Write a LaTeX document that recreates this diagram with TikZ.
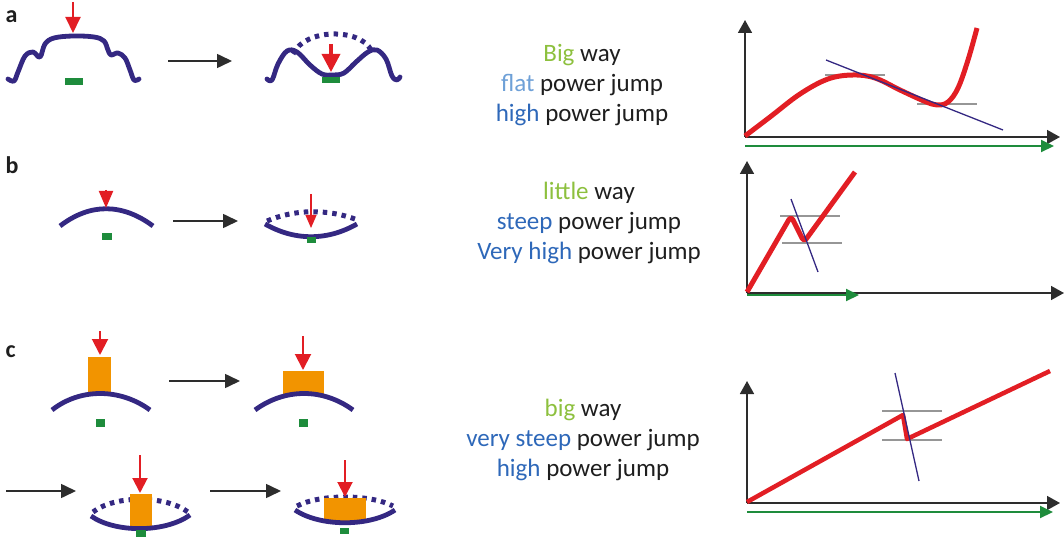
\documentclass[tikz,border=0pt]{standalone}
\usepackage{fontspec}
\setmainfont{Carlito}
\usetikzlibrary{arrows.meta}

\definecolor{prof}{RGB}{52,40,130}
\definecolor{pred}{RGB}{226,30,36}
\definecolor{porange}{RGB}{242,148,0}
\definecolor{pgreen}{RGB}{30,140,60}
\definecolor{lgreen}{RGB}{141,192,62}
\definecolor{lblue}{RGB}{110,160,215}
\definecolor{mblue}{RGB}{46,104,185}
\definecolor{txt}{RGB}{30,30,30}
\definecolor{axisgray}{RGB}{45,45,45}
\definecolor{levelgray}{RGB}{150,150,150}

\tikzset{
  profile/.style={draw=prof, line width=4.8pt, line cap=round, line join=round},
  dotarc/.style={draw=prof, line width=5pt, dash pattern=on 4.5pt off 5pt},
  load/.style={draw=pred, line width=2pt, -{Triangle[length=16pt,width=15pt]}},
  stepar/.style={draw=axisgray, line width=1.6pt, -{Triangle[length=15pt,width=14pt]}},
  sensor/.style={fill=pgreen},
  block/.style={fill=porange},
  axis/.style={draw=axisgray, line width=1.6pt, -{Triangle[length=13pt,width=14pt]}},
  travel/.style={draw=pgreen, line width=2pt, -{Triangle[length=13pt,width=12pt]}},
  curve/.style={draw=pred, line width=5pt, line join=round},
  level/.style={draw=levelgray, line width=1.5pt},
  tang/.style={draw=prof, line width=1.3pt},
  captext/.style={font=\fontsize{25}{30}\selectfont, align=center, text=txt},
  tag/.style={font=\fontsize{24}{26}\selectfont\bfseries, text=txt, anchor=west}
}

\begin{document}
\begin{tikzpicture}[x=1pt, y=-1pt]
\useasboundingbox (0,0) rectangle (1064,537);

% panel tags
\node[tag] (tA) at (2,17) {a};
\node[tag] (tB) at (2,165) {b};
\node[tag] (tC) at (2,352) {c};

% ---------- a: profiled sheet ----------
\draw[profile] plot[smooth, tension=0.6] coordinates {
  (8,79) (14,81) (18,72) (25,56) (33,52) (40,57) (45,44) (54,38) (73,36)
  (94,37) (104,41) (108,50) (111,55) (118,53) (125,58) (130,70) (134,80) (139,79)};
\fill[sensor] (65,78) rectangle (83,85);
\coordinate (aL0) at (73,2);
\coordinate (aL1) at (73,33);
\draw[load] (aL0) -- (aL1);

\coordinate (aS0) at (168,61);
\coordinate (aS1) at (232,61);
\draw[stepar] (aS0) -- (aS1);

\draw[dotarc] (293,54) .. controls (305,28) and (360,28) .. (371,50);
\draw[profile] plot[smooth, tension=0.6] coordinates {
  (267,79) (272,80) (278,64) (287,51) (297,52) (310,65) (322,74) (333,75)
  (344,73) (356,62) (368,52) (377,50) (386,59) (392,76) (397,80) (400,77)};
\fill[sensor] (322,77) rectangle (340,83);
\coordinate (aR0) at (331,44);
\coordinate (aR1) at (331,72);
\draw[load, line width=3.5pt, -{Triangle[length=18pt,width=18pt]}] (aR0) -- (aR1);

% ---------- b: arched sheet ----------
\draw[profile, line cap=butt] (60,226) .. controls (90,203) and (122,203) .. (153,226);
\fill[sensor] (102,233) rectangle (112,240);
\coordinate (bL0) at (106,190);
\coordinate (bL1) at (106,208);
\draw[load, -{Triangle[length=17pt,width=14pt]}] (bL0) -- (bL1);

\coordinate (bS0) at (173,221);
\coordinate (bS1) at (238,221);
\draw[stepar] (bS0) -- (bS1);

\draw[dotarc] (267,221) .. controls (295,209) and (327,209) .. (355,219);
\draw[profile, line cap=butt] (265,224) .. controls (295,241) and (327,241) .. (357,224);
\fill[sensor] (307,237) rectangle (316,243);
\coordinate (bR0) at (311,194);
\coordinate (bR1) at (311,228);
\draw[load, line width=1.3pt, -{Triangle[length=13pt,width=11pt]}] (bR0) -- (bR1);

% ---------- c: arched sheet with stamp ----------
\fill[block] (88,357) rectangle (111,394);
\draw[profile, line cap=butt] (52,410) .. controls (80,388) and (120,388) .. (150,410);
\fill[sensor] (96,419) rectangle (105,427);
\coordinate (cA0) at (100,331);
\coordinate (cA1) at (100,355);
\draw[load, -{Triangle[length=16pt,width=16pt]}] (cA0) -- (cA1);

\coordinate (cS0) at (169,381);
\coordinate (cS1) at (240,381);
\draw[stepar] (cS0) -- (cS1);

\fill[block] (283,371) rectangle (324,396);
\draw[profile, line cap=butt] (255,410) .. controls (285,388) and (323,388) .. (353,410);
\fill[sensor] (299,419) rectangle (308,427);
\coordinate (cB0) at (303,336);
\coordinate (cB1) at (303,370);
\draw[load, -{Triangle[length=16pt,width=16pt]}] (cB0) -- (cB1);

\coordinate (cT0) at (6,491);
\coordinate (cT1) at (76,491);
\draw[stepar] (cT0) -- (cT1);

\draw[dotarc] (93,512) .. controls (115,495) and (165,495) .. (188,512);
\fill[block] (130,494) rectangle (152,527);
\draw[profile, line cap=butt] (91,516) .. controls (115,533) and (165,533) .. (190,515);
\fill[sensor] (136,530) rectangle (146,537);
\coordinate (cC0) at (140,455);
\coordinate (cC1) at (140,493);
\draw[load, -{Triangle[length=15pt,width=15pt]}] (cC0) -- (cC1);

\coordinate (cU0) at (210,491);
\coordinate (cU1) at (281,491);
\draw[stepar] (cU0) -- (cU1);

\draw[dotarc] (297,506) .. controls (320,494) and (370,494) .. (393,506);
\fill[block] (324,498) rectangle (366,523);
\draw[profile, line cap=butt] (295,510) .. controls (320,527) and (370,527) .. (395,510);
\fill[sensor] (340,528) rectangle (349,534);
\coordinate (cD0) at (345,460);
\coordinate (cD1) at (345,497);
\draw[load, -{Triangle[length=15pt,width=15pt]}] (cD0) -- (cD1);

% ---------- captions ----------
\node[captext] (capA) at (582,85) {\textcolor{lgreen}{Big} way\\
  \textcolor{lblue}{flat} power jump\\
  \textcolor{mblue}{high} power jump};
\node[captext] (capB) at (589,223) {\textcolor{lgreen}{little} way\\
  \textcolor{mblue}{steep} power jump\\
  \textcolor{mblue}{Very high} power jump};
\node[captext] (capC) at (583,440) {\textcolor{lgreen}{big} way\\
  \textcolor{mblue}{very steep} power jump\\
  \textcolor{mblue}{high} power jump};

% ---------- chart a ----------
\coordinate (oA) at (745,137);
\coordinate (yA) at (745,20);
\coordinate (xA) at (1060,137);
\draw[axis] (oA) -- (yA);
\draw[axis] (oA) -- (xA);
\coordinate (gA0) at (745,146);
\coordinate (gA1) at (1054,146);
\draw[travel] (gA0) -- (gA1);
\draw[level] (825,75) -- (885,75);
\draw[level] (917,104) -- (977,104);
\draw[curve] plot[smooth, tension=0.6] coordinates {
  (745,136) (770,117) (800,94) (828,79) (853,75) (875,78) (900,90)
  (924,101) (937,105) (948,102) (958,88) (968,60) (977,28)};
\draw[tang] (826,60) -- (1003,130);

% ---------- chart b ----------
\coordinate (oB) at (747,293);
\coordinate (yB) at (747,161);
\coordinate (xB) at (1064,293);
\draw[axis] (oB) -- (yB);
\draw[axis] (oB) -- (xB);
\coordinate (gB0) at (747,295);
\coordinate (gB1) at (859,295);
\draw[travel] (gB0) -- (gB1);
\draw[level] (780,216) -- (840,216);
\draw[level] (782,243) -- (842,243);
\draw[curve, rounded corners=4pt] (747,292) -- (791,216) -- (804,242) -- (855,172);
\draw[tang] (791,199) -- (818,272);

% ---------- chart c ----------
\coordinate (oC) at (747,503);
\coordinate (yC) at (747,381);
\coordinate (xC) at (1060,503);
\draw[axis] (oC) -- (yC);
\draw[axis] (oC) -- (xC);
\coordinate (gC0) at (747,512);
\coordinate (gC1) at (1053,512);
\draw[travel] (gC0) -- (gC1);
\draw[level] (882,411) -- (942,411);
\draw[level] (882,440) -- (942,440);
\draw[curve, line width=4.5pt] (747,502) -- (903,415) -- (907,439) -- (1050,371);
\draw[tang] (895,373) -- (919,481);

\end{tikzpicture}
\end{document}
